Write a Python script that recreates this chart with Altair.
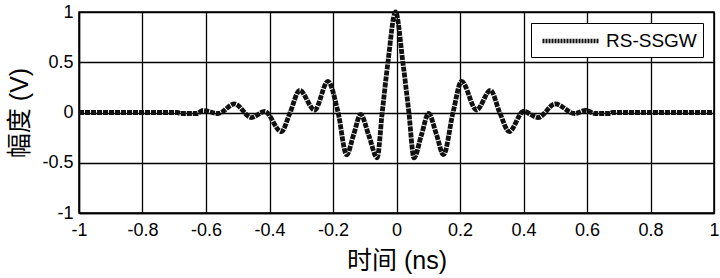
import altair as alt
import pandas as pd

# time (ns) and amplitude (V)
t_ns = [-1.0, -0.69, -0.68, -0.63, -0.609, -0.562, -0.51, -0.457, -0.415, -0.363,
        -0.335, -0.305, -0.258, -0.216, -0.184, -0.157, -0.135, -0.113, -0.087,
        -0.061, -0.045, -0.027, -0.003, 0.020, 0.039, 0.055, 0.078, 0.101, 0.126,
        0.148, 0.178, 0.205, 0.252, 0.296, 0.325, 0.355, 0.40, 0.446, 0.50, 0.561,
        0.596, 0.625, 0.672, 0.68, 1.0]
amp_v = [0.0, 0.0, -0.01, -0.01, 0.02, -0.01, 0.085, -0.05, 0.01, -0.19,
         0.0, 0.22, 0.025, 0.31, 0.0, -0.42, -0.22, -0.02, -0.23,
         -0.45, 0.0, 0.5, 1.0, 0.5, 0.0, -0.45, -0.23, -0.01, -0.22,
         -0.42, 0.0, 0.31, 0.025, 0.22, 0.0, -0.19, 0.01, -0.05, 0.085, -0.01,
         0.02, -0.01, -0.01, 0.0, 0.0]
series_name = "RS-SSGW"
x_ticks = [-1, -0.8, -0.6, -0.4, -0.2, 0, 0.2, 0.4, 0.6, 0.8, 1]
y_ticks = [-1, -0.5, 0, 0.5, 1]

df = pd.DataFrame({"t": t_ns, "a": amp_v, "s": [series_name] * len(t_ns)})

FONT = "Liberation Sans, Arial, Noto Sans CJK SC"
minus_fix = "replace(format(datum.value, '~g'), '\u2212', '-')"

common_axis = dict(
    grid=True, gridColor="black", gridWidth=1.3, gridOpacity=1,
    domainColor="black", domainWidth=1.5, ticks=False,
    labelFont=FONT, labelFontSize=18, labelColor="black",
    titleFont=FONT, titleFontSize=25, titleColor="black", titleFontWeight="normal",
    labelExpr=minus_fix,
)

chart = alt.Chart(df).mark_line(
    interpolate="monotone", strokeWidth=4.8, strokeDash=[5, 1]
).encode(
    x=alt.X("t:Q", scale=alt.Scale(domain=[-1, 1], nice=False, zero=False),
            axis=alt.Axis(values=x_ticks, title="时间 (ns)", labelPadding=8,
                          titlePadding=9, labelFlush=False, labelOverlap=False,
                          **common_axis)),
    y=alt.Y("a:Q", scale=alt.Scale(domain=[-1, 1], nice=False, zero=False),
            axis=alt.Axis(values=y_ticks, title="幅度 (V)", labelPadding=6,
                          titlePadding=9, labelOverlap=False, **common_axis)),
    color=alt.Color("s:N", scale=alt.Scale(range=["#111111"]),
                    legend=alt.Legend(title=None, orient="none", legendX=452, legendY=11,
                                      strokeColor="black", fillColor="white", padding=6,
                                      symbolType="M-3,0H3", symbolSize=361,
                                      symbolStrokeWidth=4.5, symbolDash=[2, 1],
                                      symbolOffset=22, labelOffset=23,
                                      labelFont=FONT, labelFontSize=19,
                                      labelColor="black")),
).properties(
    width=635, height=201, autosize="none",
    padding={"left": 79, "top": 12, "right": 6, "bottom": 65},
    background="white",
).configure_view(stroke="black", strokeWidth=1.5)

chart.save("out.html", embed_options={"renderer": "svg", "actions": False})
